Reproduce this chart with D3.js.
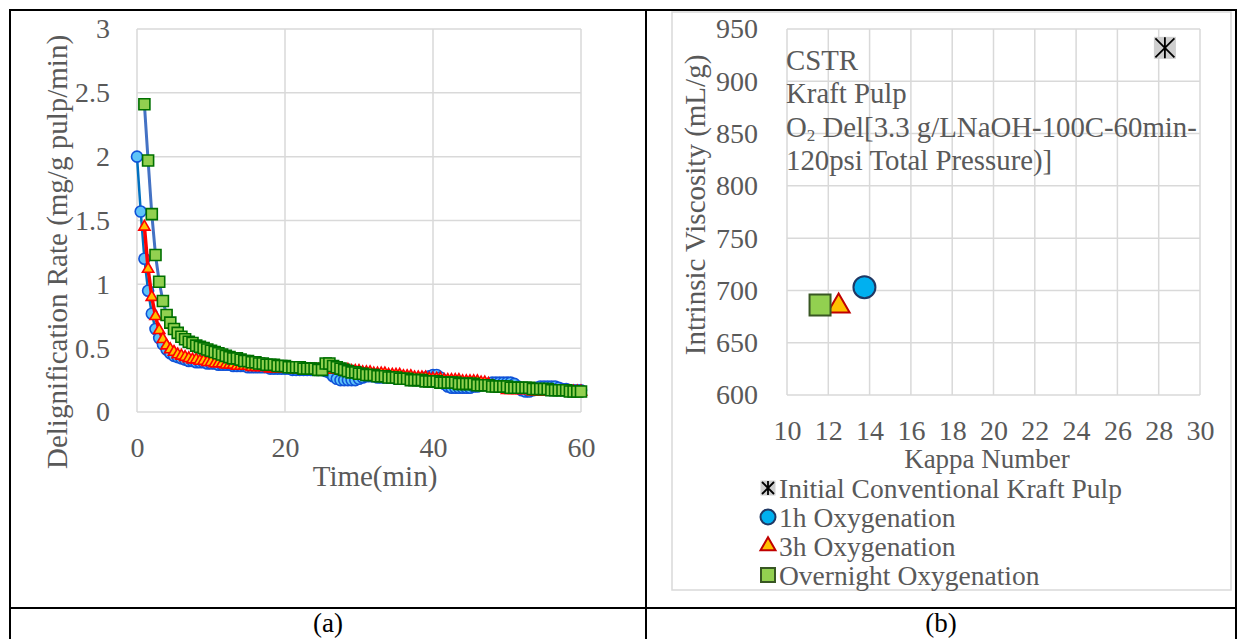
<!DOCTYPE html>
<html>
<head>
<meta charset="utf-8">
<script src="https://cdn.jsdelivr.net/npm/d3@7"></script>
<style>
  body { margin: 0; background: #fff; }
  svg text { font-family: "Liberation Serif", "Times New Roman", serif; }
</style>
</head>
<body>
<svg id="chart" width="1246" height="639"></svg>
<script>
// (a) delignification rate vs time, one point every half minute
const timeMin = [
  0, 0.5, 1, 1.5, 2, 2.5, 3, 3.5, 4, 4.5,
  5, 5.5, 6, 6.5, 7, 7.5, 8, 8.5, 9, 9.5,
  10, 10.5, 11, 11.5, 12, 12.5, 13, 13.5, 14, 14.5,
  15, 15.5, 16, 16.5, 17, 17.5, 18, 18.5, 19, 19.5,
  20, 20.5, 21, 21.5, 22, 22.5, 23, 23.5, 24, 24.5,
  25, 25.5, 26, 26.5, 27, 27.5, 28, 28.5, 29, 29.5,
  30, 30.5, 31, 31.5, 32, 32.5, 33, 33.5, 34, 34.5,
  35, 35.5, 36, 36.5, 37, 37.5, 38, 38.5, 39, 39.5,
  40, 40.5, 41, 41.5, 42, 42.5, 43, 43.5, 44, 44.5,
  45, 45.5, 46, 46.5, 47, 47.5, 48, 48.5, 49, 49.5,
  50, 50.5, 51, 51.5, 52, 52.5, 53, 53.5, 54, 54.5,
  55, 55.5, 56, 56.5, 57, 57.5, 58, 58.5, 59, 59.5,
  60
];
const rate1h = [
  2.00, 1.57, 1.20, 0.95, 0.77, 0.65, 0.58, 0.53, 0.49, 0.46,
  0.44, 0.43, 0.42, 0.41, 0.40, 0.40, 0.39, 0.39, 0.39, 0.38,
  0.38, 0.38, 0.37, 0.37, 0.37, 0.37, 0.36, 0.36, 0.36, 0.36,
  0.35, 0.35, 0.35, 0.35, 0.35, 0.35, 0.34, 0.34, 0.34, 0.34,
  0.34, 0.34, 0.33, 0.33, 0.33, 0.33, 0.33, 0.33, 0.33, 0.33,
  0.33, 0.32, 0.31, 0.28, 0.26, 0.25, 0.25, 0.25, 0.25, 0.25,
  0.26, 0.27, 0.28, 0.28, 0.28, 0.27, 0.27, 0.27, 0.27, 0.27,
  0.26, 0.26, 0.26, 0.26, 0.26, 0.26, 0.26, 0.26, 0.27, 0.28,
  0.29, 0.29, 0.27, 0.22, 0.20, 0.19, 0.19, 0.19, 0.19, 0.19,
  0.19, 0.20, 0.20, 0.21, 0.22, 0.22, 0.23, 0.23, 0.23, 0.23,
  0.23, 0.23, 0.22, 0.20, 0.17, 0.16, 0.16, 0.17, 0.19, 0.20,
  0.20, 0.20, 0.20, 0.20, 0.19, 0.18, 0.18, 0.17, 0.17, 0.17,
  0.17
];
const rate3h = [
  null, null, 1.45, 1.12, 0.90, 0.75, 0.64, 0.57, 0.52, 0.49,
  0.47, 0.45, 0.44, 0.43, 0.42, 0.41, 0.41, 0.40, 0.40, 0.39,
  0.39, 0.38, 0.38, 0.38, 0.37, 0.37, 0.37, 0.36, 0.36, 0.36,
  0.36, 0.35, 0.35, 0.35, 0.35, 0.35, 0.34, 0.34, 0.34, 0.34,
  0.34, 0.34, 0.34, 0.33, 0.33, 0.33, 0.33, 0.33, 0.33, 0.33,
  0.33, 0.33, 0.33, 0.33, 0.33, 0.33, 0.33, 0.33, 0.32, 0.32,
  0.32, 0.31, 0.31, 0.31, 0.30, 0.30, 0.30, 0.30, 0.29, 0.29,
  0.29, 0.29, 0.28, 0.28, 0.28, 0.27, 0.27, 0.27, 0.27, 0.26,
  0.26, 0.26, 0.26, 0.25, 0.25, 0.25, 0.25, 0.25, 0.24, 0.24,
  0.24, 0.24, 0.24, 0.23, 0.23, 0.22, 0.20, 0.19, 0.18, 0.18,
  0.17, 0.17, 0.17, 0.17, 0.17, 0.17, 0.17, 0.16, 0.16, 0.16,
  0.16, 0.16, 0.16, 0.16, 0.16, 0.16, 0.16, 0.16, 0.16, 0.16,
  0.16
];
const rateOvernight = [
  null, null, 2.41, 1.97, 1.55, 1.23, 1.02, 0.87, 0.76, 0.70,
  0.65, 0.62, 0.59, 0.57, 0.55, 0.54, 0.52, 0.51, 0.50, 0.49,
  0.48, 0.47, 0.46, 0.45, 0.44, 0.43, 0.42, 0.42, 0.41, 0.40,
  0.40, 0.39, 0.39, 0.38, 0.38, 0.37, 0.37, 0.37, 0.36, 0.36,
  0.36, 0.35, 0.35, 0.35, 0.35, 0.34, 0.34, 0.34, 0.34, 0.33,
  0.33, 0.38, 0.38, 0.36, 0.35, 0.34, 0.33, 0.32, 0.31, 0.31,
  0.30, 0.30, 0.29, 0.29, 0.29, 0.28, 0.28, 0.28, 0.27, 0.27,
  0.27, 0.26, 0.26, 0.26, 0.25, 0.25, 0.25, 0.25, 0.24, 0.24,
  0.24, 0.24, 0.23, 0.23, 0.23, 0.23, 0.23, 0.22, 0.22, 0.22,
  0.22, 0.22, 0.21, 0.21, 0.21, 0.21, 0.20, 0.20, 0.20, 0.20,
  0.20, 0.19, 0.19, 0.19, 0.19, 0.19, 0.19, 0.18, 0.18, 0.18,
  0.18, 0.18, 0.17, 0.17, 0.17, 0.17, 0.17, 0.16, 0.16, 0.16,
  0.16
];
const rateTicks = [0, 0.5, 1, 1.5, 2, 2.5, 3];
const timeTicks = [0, 20, 40, 60];

// (b) viscosity vs kappa
const pulpNames = ["Initial Conventional Kraft Pulp", "1h Oxygenation", "3h Oxygenation", "Overnight Oxygenation"];
const kappaNumber = [28.3, 13.75, 12.5, 11.6];
const viscosity = [932, 703, 685, 686];
const kappaTicks = [10, 12, 14, 16, 18, 20, 22, 24, 26, 28, 30];
const viscTicks = [600, 650, 700, 750, 800, 850, 900, 950];
const noteLines = ["CSTR", "Kraft Pulp", "O\u2082 Del[3.3 g/LNaOH-100C-60min-", "120psi Total Pressure)]"];
const captions = ["(a)", "(b)"];

const svg = d3.select("#chart");
const textGrey = "#595959";
const gridGrey = "#d9d9d9";

// table frame
const frame = svg.append("g").attr("stroke", "#000").attr("stroke-width", 2);
frame.append("line").attr("x1", 10).attr("x2", 1236).attr("y1", 10).attr("y2", 10);
frame.append("line").attr("x1", 10).attr("x2", 1236).attr("y1", 608).attr("y2", 608);
frame.append("line").attr("x1", 10).attr("x2", 10).attr("y1", 9).attr("y2", 639);
frame.append("line").attr("x1", 646).attr("x2", 646).attr("y1", 9).attr("y2", 639);
frame.append("line").attr("x1", 1236).attr("x2", 1236).attr("y1", 9).attr("y2", 639);

svg.selectAll("text.caption")
  .data(captions)
  .join("text")
  .attr("class", "caption")
  .attr("x", (d, i) => (i === 0 ? 328 : 941))
  .attr("y", 632)
  .attr("text-anchor", "middle")
  .attr("font-size", 27)
  .attr("fill", "#000")
  .text((d) => d);

// ---------- chart (a) ----------
const xA = d3.scaleLinear().domain([0, 60]).range([137, 581]);
const yA = d3.scaleLinear().domain([0, 3]).range([412, 29]);
const gA = svg.append("g");

gA.selectAll("line.hgrid")
  .data(rateTicks)
  .join("line")
  .attr("class", "hgrid")
  .attr("x1", xA(0)).attr("x2", xA(60))
  .attr("y1", (d) => yA(d)).attr("y2", (d) => yA(d))
  .attr("stroke", gridGrey).attr("stroke-width", 1.5);
gA.selectAll("line.vgrid")
  .data(timeTicks)
  .join("line")
  .attr("class", "vgrid")
  .attr("x1", (d) => xA(d)).attr("x2", (d) => xA(d))
  .attr("y1", yA(0)).attr("y2", yA(3))
  .attr("stroke", gridGrey).attr("stroke-width", 1.5);

function styleAxis(g, size) {
  g.select(".domain").remove();
  g.selectAll("text").attr("font-size", size).attr("fill", textGrey)
    .attr("font-family", "'Liberation Serif', 'Times New Roman', serif");
}

gA.append("g")
  .attr("transform", `translate(${xA(0)},0)`)
  .call(d3.axisLeft(yA).tickValues(rateTicks).tickSize(0).tickPadding(27).tickFormat((d) => d))
  .call((g) => styleAxis(g, 28));
gA.append("g")
  .attr("transform", `translate(0,${yA(0)})`)
  .call(d3.axisBottom(xA).tickValues(timeTicks).tickSize(0).tickPadding(25).tickFormat((d) => d))
  .call((g) => styleAxis(g, 28));

gA.append("text")
  .attr("transform", `translate(67,252) rotate(-90)`)
  .attr("text-anchor", "middle")
  .attr("font-size", 29)
  .attr("fill", textGrey)
  .text("Delignification Rate (mg/g pulp/min)");
gA.append("text")
  .attr("x", 375).attr("y", 486)
  .attr("text-anchor", "middle")
  .attr("font-size", 29)
  .attr("fill", textGrey)
  .text("Time(min)");

const seriesA = [
  { values: rate1h, line: "#0070c0", lw: 2.5, type: d3.symbolCircle, size: 95, fill: "#5ec4f8", stroke: "#1052d8" },
  { values: rate3h, line: "#ff0000", lw: 3.5, type: d3.symbolTriangle, size: 55, fill: "#ffc000", stroke: "#ff0000" },
  { values: rateOvernight, line: "#4472c4", lw: 3, type: d3.symbolSquare, size: 121, fill: "#92d050", stroke: "#007000" }
];

const lineA = d3.line()
  .defined((d) => d.v != null)
  .x((d) => xA(d.t))
  .y((d) => yA(d.v));

seriesA.forEach((s) => {
  const pts = timeMin.map((t, i) => ({ t: t, v: s.values[i] }));
  const g = gA.append("g");
  g.append("path")
    .datum(pts)
    .attr("d", lineA)
    .attr("fill", "none")
    .attr("stroke", s.line)
    .attr("stroke-width", s.lw)
    .attr("stroke-linejoin", "round");
  g.selectAll("path.pt")
    .data(pts.filter((d) => d.v != null))
    .join("path")
    .attr("class", "pt")
    .attr("transform", (d) => `translate(${xA(d.t)},${yA(d.v)})`)
    .attr("d", d3.symbol().type(s.type).size(s.size))
    .attr("fill", s.fill)
    .attr("stroke", s.stroke)
    .attr("stroke-width", 1.6);
});

// ---------- chart (b) ----------
const xB = d3.scaleLinear().domain([10, 30]).range([787, 1200]);
const yB = d3.scaleLinear().domain([600, 950]).range([395, 29]);
const gB = svg.append("g");

gB.append("rect")
  .attr("x", 672).attr("y", 12)
  .attr("width", 559).attr("height", 578)
  .attr("fill", "none")
  .attr("stroke", gridGrey).attr("stroke-width", 1.5);

gB.selectAll("line.hgrid")
  .data(viscTicks)
  .join("line")
  .attr("class", "hgrid")
  .attr("x1", xB(10)).attr("x2", xB(30))
  .attr("y1", (d) => yB(d)).attr("y2", (d) => yB(d))
  .attr("stroke", gridGrey).attr("stroke-width", 1.5);
gB.selectAll("line.vgrid")
  .data(kappaTicks)
  .join("line")
  .attr("class", "vgrid")
  .attr("x1", (d) => xB(d)).attr("x2", (d) => xB(d))
  .attr("y1", yB(600)).attr("y2", yB(950))
  .attr("stroke", gridGrey).attr("stroke-width", 1.5);

gB.append("g")
  .attr("transform", `translate(${xB(10)},0)`)
  .call(d3.axisLeft(yB).tickValues(viscTicks).tickSize(0).tickPadding(29).tickFormat((d) => d))
  .call((g) => styleAxis(g, 28));
gB.append("g")
  .attr("transform", `translate(0,${yB(600)})`)
  .call(d3.axisBottom(xB).tickValues(kappaTicks).tickSize(0).tickPadding(25).tickFormat((d) => d))
  .call((g) => styleAxis(g, 28));

gB.append("text")
  .attr("transform", `translate(705,205) rotate(-90)`)
  .attr("text-anchor", "middle")
  .attr("font-size", 29)
  .attr("fill", textGrey)
  .text("Intrinsic Viscosity (mL/g)");
gB.append("text")
  .attr("x", 987).attr("y", 468)
  .attr("text-anchor", "middle")
  .attr("font-size", 27)
  .attr("fill", textGrey)
  .text("Kappa Number");

// note block inside plot area
const note = gB.append("text")
  .attr("font-size", 28.8)
  .attr("fill", textGrey);
noteLines.forEach((line, i) => {
  const y = 70 + i * 33.3;
  if (line.includes("\u2082")) {
    const parts = line.split("\u2082");
    note.append("tspan").attr("x", 786).attr("y", y).text(parts[0]);
    note.append("tspan").attr("font-size", 17).attr("dy", 4).text("2");
    note.append("tspan").attr("dy", -4).text(" " + parts[1].trimStart());
  } else {
    note.append("tspan").attr("x", 786).attr("y", y).text(line);
  }
});

const markersB = [
  { kind: "star", fill: "#cfcfcf", stroke: "#000", size: 22, legend: 15 },
  { kind: "circle", type: d3.symbolCircle, fill: "#00b0f0", stroke: "#1f3864", size: 22, legend: 15 },
  { kind: "tri", type: d3.symbolTriangle, fill: "#ffc000", stroke: "#c00000", size: 22, legend: 15 },
  { kind: "sq", type: d3.symbolSquare, fill: "#92d050", stroke: "#385723", size: 21, legend: 14 }
];

function drawMarker(g, m, s) {
  if (m.kind === "star") {
    g.append("rect").attr("x", -s / 2).attr("y", -s / 2).attr("width", s).attr("height", s)
      .attr("fill", m.fill);
    const h = s / 2 - 1.5;
    g.append("path")
      .attr("d", `M${-h},${-h}L${h},${h}M${-h},${h}L${h},${-h}M0,${-h - 1}L0,${h + 1}`)
      .attr("stroke", m.stroke).attr("stroke-width", 1.8).attr("fill", "none");
    return;
  }
  let area = s * s;
  if (m.kind === "circle") area = Math.PI * (s / 2) * (s / 2);
  if (m.kind === "tri") area = (Math.sqrt(3) / 4) * s * s;
  g.append("path")
    .attr("d", d3.symbol().type(m.type).size(area)())
    .attr("fill", m.fill)
    .attr("stroke", m.stroke)
    .attr("stroke-width", 2);
}

pulpNames.forEach((name, i) => {
  const g = gB.append("g")
    .attr("transform", `translate(${xB(kappaNumber[i])},${yB(viscosity[i])})`);
  drawMarker(g, markersB[i], markersB[i].size);
});

// legend
const legend = gB.append("g");
pulpNames.forEach((name, i) => {
  const row = legend.append("g").attr("transform", `translate(768,${488 + i * 29})`);
  drawMarker(row, markersB[i], markersB[i].legend);
  row.append("text")
    .attr("x", 11).attr("y", 10)
    .attr("font-size", 27.5)
    .attr("fill", textGrey)
    .text(name);
});
</script>
</body>
</html>
